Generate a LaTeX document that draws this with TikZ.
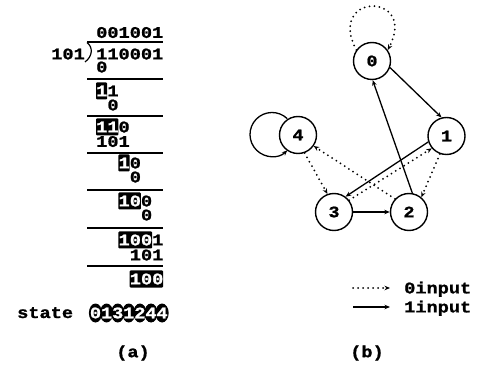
\documentclass[tikz,border=0pt]{standalone}
\usepackage{fontspec}
\usetikzlibrary{arrows.meta}
\newfontfamily\monof[FakeStretch=1.15, BoldFeatures={FakeBold=1.2}]{Liberation Mono}
\tikzset{
  dg/.style={font=\monof\bfseries\fontsize{16.2}{18}\selectfont, inner sep=0pt, anchor=base west},
  st/.style={circle, draw, line width=1.4pt, minimum size=37pt, inner sep=0pt, fill=white,
             font=\monof\bfseries\fontsize{16}{18}\selectfont},
  one/.style={line width=1.3pt, -{Stealth[length=5.5pt,width=4.5pt]}},
  zero/.style={line width=2pt, dash pattern=on 0pt off 5pt, line cap=round, -{Stealth[length=5.5pt,width=4.5pt]}},
  divrule/.style={line width=1.2pt},
  hl/.style={fill=black, rounded corners=1pt},
}
\begin{document}
\begin{tikzpicture}[x=1pt,y=-1pt]
\useasboundingbox (0,0) rectangle (487,371);
% ---------------- (a) long division ----------------
% highlight boxes
\fill[hl] (96,82.5) rectangle (107.2,99.5);
\fill[hl] (96,118.5) rectangle (118.4,135.5);
\fill[hl] (118.4,154.5) rectangle (129.6,171.5);
\fill[hl] (118.4,192.5) rectangle (140.8,209.5);
\fill[hl] (118.4,231.5) rectangle (152,248.5);
\fill[hl] (129.6,270.5) rectangle (163.2,287.5);
% rows
\node[dg] (q)   at (96,37.9)    {001001};
\node[dg, anchor=base east] (dv) at (85,59.4) {101};
\node[dg] (dd)  at (96,59.4)    {110001};
\node[dg] (r2)  at (96,72.4)    {0};
\node[dg] (r3)  at (96,96.4)    {{\color{white}1}1};
\node[dg] (r4)  at (107.2,110.4) {0};
\node[dg] (r5)  at (96,132.4)   {{\color{white}11}0};
\node[dg] (r6)  at (96,146.9)   {101};
\node[dg] (r7)  at (118.4,168.4) {{\color{white}1}0};
\node[dg] (r8)  at (129.6,182.4) {0};
\node[dg] (r9)  at (118.4,206.4) {{\color{white}10}0};
\node[dg] (r10) at (140.8,220.4) {0};
\node[dg] (r11) at (118.4,245.4) {{\color{white}100}1};
\node[dg] (r12) at (129.6,260.4) {101};
\node[dg] (r13) at (129.6,284.4) {\color{white}100};
% division bracket and rules
\draw[divrule] (87,42) -- (163,42);
\draw[divrule] (87,42.5) .. controls (93,47) and (93,56) .. (85,62);
\foreach \yy in {79,116,153,190,228,266}
  \draw[divrule] (87,\yy) -- (163,\yy);
% state row
\node[dg] (state) at (17,318) {state};
\foreach \i in {0,...,6}
  \fill (95.5+11.1*\i,313) ellipse [x radius=6.6, y radius=9.5];
\foreach \i/\d in {0/0,1/1,2/3,3/1,4/2,5/4,6/4}
  \node[dg, anchor=center, text=white] (s\i) at (95.5+11.1*\i,313) {\d};
\node[dg, anchor=center] (la) at (133,353) {(a)};
% ---------------- (b) state graph ----------------
\coordinate (l4c) at (272,134.5);
\draw[one] (l4c) ++(-46:22) arc[start angle=-46, end angle=-314, radius=22];
\node[st] (n0) at (372,61) {0};
\node[st] (n1) at (446.5,136) {1};
\node[st] (n2) at (409,212) {2};
\node[st] (n3) at (334,212) {3};
\node[st] (n4) at (298,135) {4};
% 1-input transitions
\draw[one] (n0.-20) -- (n1.105);
\draw[one] (n1.198) -- (n3.53);
\draw[one] (n2.80) -- (n0.-88);
\draw[one] (n3.0) -- (n2.180);
% 0-input transitions
\draw[zero] (n0.145) .. controls (326,-8) and (418,-8) .. (n0.35);
\draw[zero] (n1.-110) -- (n2.50);
\draw[zero] (n3.38) -- (n1.220);
\draw[zero] (n2.137) -- (n4.-35);
\draw[zero] (n4.-70) -- (n3.110);
% legend
\coordinate (z0a) at (353,288);
\coordinate (z0b) at (390,288);
\coordinate (z1a) at (353,307);
\coordinate (z1b) at (390,307);
\draw[zero] (z0a) -- (z0b);
\draw[one] (z1a) -- (z1b);
\node[dg] (t0) at (404,293.4) {0input};
\node[dg] (t1) at (404,312.4) {1input};
\node[dg, anchor=center] (lb) at (367,353) {(b)};
\end{tikzpicture}
\end{document}
